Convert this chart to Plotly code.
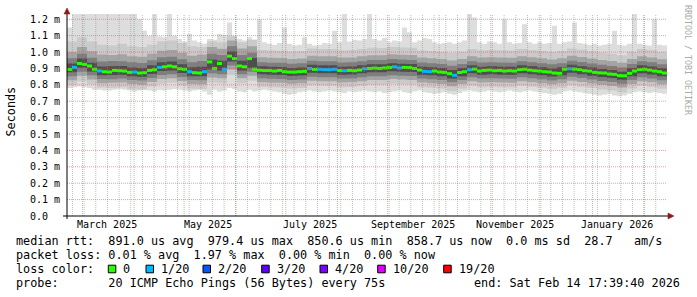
import numpy as np
import pandas as pd
import plotly.graph_objects as go

# ---------------- data ----------------
END = pd.Timestamp("2026-02-14 17:39:40")
SPAN_DAYS = 360

# median rtt per 3-day bin, microseconds
median_us = [894, 906, 930, 925, 915, 895, 885, 880, 878, 888,
             886, 884, 876, 878, 872, 874, 888, 892, 906, 910,
             915, 910, 898, 895, 880, 874, 872, 880, 940, 900,
             930, 895, 975, 960, 915, 910, 960, 895, 889, 887,
             887, 884, 888, 880, 878, 878, 880, 882, 900, 894,
             895, 893, 893, 895, 887, 886, 888, 886, 890, 898,
             900, 902, 900, 903, 905, 910, 903, 906, 905, 900,
             890, 882, 880, 884, 878, 876, 868, 858, 875, 880,
             893, 896, 884, 888, 890, 886, 888, 884, 886, 884,
             893, 895, 890, 886, 884, 880, 878, 872, 870, 895,
             898, 896, 893, 886, 884, 876, 873, 872, 866, 864,
             856, 855, 870, 884, 893, 895, 890, 884, 880, 872]

# lost pings (of 20) per 3-day bin
loss_count = [0, 1, 0, 0, 0, 0, 1, 0, 0, 0,
              0, 0, 0, 1, 0, 0, 0, 0, 1, 0,
              0, 0, 0, 0, 1, 0, 0, 1, 0, 0,
              0, 1, 0, 0, 0, 0, 0, 0, 0, 0,
              0, 0, 0, 0, 0, 0, 0, 0, 1, 0,
              1, 1, 1, 1, 0, 1, 0, 0, 0, 1,
              0, 0, 0, 0, 0, 1, 1, 0, 0, 0,
              0, 1, 1, 0, 0, 0, 0, 1, 0, 0,
              1, 0, 0, 0, 0, 0, 0, 0, 0, 0,
              0, 0, 0, 0, 0, 0, 0, 0, 0, 0,
              1, 0, 0, 0, 0, 0, 0, 0, 0, 0,
              0, 0, 0, 0, 0, 0, 0, 0, 0, 0]

# slowest ping per 3-day bin, microseconds
ping_max_us = [1150, 1260, 1260, 1260, 1260, 1260, 1260, 1260, 1260, 1260,
               1260, 1260, 1260, 1260, 1200, 1130, 1100, 1250, 1095, 1090,
               1240, 1100, 1080, 1065, 1110, 1070, 1060, 1050, 1080, 1075,
               1110, 1105, 1180, 1100, 1080, 1070, 1090, 1075, 1200, 1060,
               1050, 1045, 1055, 1150, 1050, 1040, 1045, 1090, 1050, 1040,
               1045, 1055, 1050, 1130, 1060, 1250, 1065, 1075, 1070, 1080,
               1250, 1080, 1070, 1085, 1060, 1070, 1065, 1150, 1120, 1060,
               1070, 1085, 1080, 1060, 1050, 1055, 1060, 1050, 1060, 1070,
               1250, 1210, 1060, 1050, 1065, 1060, 1050, 1200, 1060, 1050,
               1055, 1170, 1060, 1050, 1060, 1050, 1055, 1160, 1050, 1060,
               1065, 1180, 1055, 1050, 1045, 1050, 1040, 1045, 1050, 1130,
               1045, 1040, 1050, 1250, 1050, 1045, 1040, 1200, 1045, 1040]

# fastest ping per 3-day bin, microseconds
ping_min_us = [780, 785, 790, 785, 780, 770, 770, 765, 765, 770,
               775, 770, 765, 760, 765, 770, 765, 760, 770, 765,
               770, 775, 770, 765, 760, 765, 770, 760, 740, 770,
               760, 765, 780, 775, 760, 755, 770, 760, 765, 770,
               765, 760, 755, 745, 740, 745, 755, 760, 765, 760,
               755, 760, 765, 760, 755, 750, 760, 755, 760, 765,
               760, 755, 760, 750, 755, 760, 765, 755, 750, 760,
               765, 755, 750, 745, 750, 755, 745, 740, 750, 760,
               765, 760, 755, 760, 765, 760, 755, 760, 765, 760,
               755, 760, 765, 760, 755, 750, 745, 740, 745, 760,
               765, 760, 755, 750, 745, 740, 735, 740, 745, 735,
               730, 735, 745, 755, 760, 755, 750, 755, 750, 745]

# inner sorted-ping ranks per 6-day bin, microseconds
ping02_us = [800, 822, 803, 784, 781, 786, 775, 772, 790, 806, 812, 795, 776, 775, 812, 810, 860, 810, 825, 788,
             785, 784, 778, 780, 797, 794, 794, 786, 787, 794, 801, 800, 806, 804, 802, 786, 782, 777, 763, 777,
             794, 786, 788, 786, 785, 794, 788, 782, 775, 782, 797, 789, 780, 772, 765, 755, 777, 794, 787, 776]
ping04_us = [828, 855, 833, 810, 812, 814, 805, 800, 818, 836, 840, 824, 805, 804, 845, 840, 893, 840, 855, 816,
             813, 812, 806, 809, 825, 822, 822, 814, 815, 822, 829, 829, 835, 832, 830, 814, 810, 805, 791, 805,
             822, 814, 816, 814, 813, 822, 816, 810, 803, 810, 825, 817, 808, 800, 793, 783, 805, 822, 815, 804]
ping06_us = [852, 880, 858, 835, 834, 838, 830, 826, 842, 860, 864, 848, 829, 828, 870, 864, 918, 864, 880, 840,
             837, 836, 830, 833, 849, 846, 846, 838, 839, 846, 853, 853, 859, 856, 854, 838, 834, 829, 815, 829,
             846, 838, 840, 838, 837, 846, 840, 834, 827, 834, 849, 841, 832, 824, 817, 807, 829, 846, 839, 828]
ping08_us = [876, 904, 881, 858, 860, 861, 853, 849, 866, 884, 888, 872, 853, 852, 894, 888, 942, 888, 904, 864,
             861, 860, 854, 857, 873, 870, 870, 862, 863, 870, 877, 877, 883, 880, 878, 862, 858, 853, 839, 853,
             870, 862, 864, 862, 861, 870, 864, 858, 851, 858, 873, 865, 856, 848, 841, 831, 853, 870, 863, 852]
ping13_us = [930, 960, 935, 912, 913, 915, 906, 903, 920, 938, 942, 926, 907, 910, 955, 947, 1003, 947, 963, 913,
             910, 909, 903, 906, 922, 919, 919, 911, 912, 919, 926, 926, 932, 929, 927, 911, 907, 902, 890, 902,
             919, 911, 913, 911, 910, 919, 913, 907, 900, 907, 922, 914, 905, 897, 890, 880, 902, 919, 912, 901]
ping15_us = [962, 990, 965, 942, 945, 944, 938, 933, 950, 968, 972, 956, 937, 945, 990, 982, 1035, 982, 995, 938,
             935, 934, 928, 931, 947, 944, 944, 936, 937, 944, 951, 951, 957, 954, 952, 936, 932, 927, 917, 927,
             944, 936, 938, 936, 935, 944, 938, 932, 925, 932, 947, 939, 930, 922, 915, 905, 927, 944, 937, 926]
ping17_us = [1000, 1030, 1005, 985, 982, 986, 975, 972, 990, 1008, 1012, 996, 977, 985, 1030, 1020, 1070, 1022, 1035, 968,
             965, 964, 958, 961, 977, 974, 974, 966, 967, 974, 981, 981, 987, 984, 982, 966, 962, 957, 948, 957,
             974, 966, 968, 966, 965, 974, 968, 962, 955, 962, 977, 969, 960, 952, 945, 935, 957, 974, 967, 956]
ping19_us = [1065, 1090, 1065, 1045, 1040, 1050, 1035, 1030, 1045, 1065, 1070, 1055, 1035, 1030, 1065, 1060, 1095, 1060, 1075, 1013,
             1010, 1008, 1003, 1006, 1022, 1019, 1019, 1011, 1012, 1019, 1026, 1025, 1030, 1028, 1026, 1010, 1006, 1002, 995, 1002,
             1019, 1011, 1013, 1011, 1010, 1019, 1013, 1007, 1000, 1007, 1022, 1014, 1005, 997, 990, 980, 1002, 1019, 1012, 1001]

y_tick_values = [0.0, 0.1, 0.2, 0.3, 0.4, 0.5, 0.6, 0.7, 0.8, 0.9, 1.0, 1.1, 1.2]
y_tick_labels = ["0.0", "0.1 m", "0.2 m", "0.3 m", "0.4 m", "0.5 m", "0.6 m",
                 "0.7 m", "0.8 m", "0.9 m", "1.0 m", "1.1 m", "1.2 m"]
month_labels = ["March 2025", "May 2025", "July 2025", "September 2025",
                "November 2025", "January 2026"]
month_label_starts = ["2025-03-01", "2025-05-01", "2025-07-01", "2025-09-01",
                      "2025-11-01", "2026-01-01"]
legend_rows = [
    "median rtt:  891.0 us avg  979.4 us max  850.6 us min  858.7 us now  0.0 ms sd  28.7   am/s",
    "packet loss: 0.01 % avg  1.97 % max  0.00 % min  0.00 % now",
    "loss color:",
    "probe:       20 ICMP Echo Pings (56 Bytes) every 75s",
]
end_label = "end: Sat Feb 14 17:39:40 2026"
loss_classes = [0, 1, 2, 3, 4, 10, 19]
loss_class_labels = ["0", "1/20", "2/20", "3/20", "4/20", "10/20", "19/20"]
loss_class_colors = ["#26ff00", "#00b8ff", "#0059ff", "#5e00ff", "#7e00ff", "#dd00ff", "#ff0000"]

# ---------------- figure ----------------
W, H = 697, 297
ML, MR, MT, MB = 67, 30, 14, 81
PW, PH = W - ML - MR, H - MT - MB
Y_MAX = 1.232
START = END - pd.Timedelta(days=SPAN_DAYS)
MONO = "DejaVu Sans Mono"


def pxx(px):
    return (px - ML) / PW


def pxy(py):
    return (H - MB - py) / PH


fig = go.Figure()


def step_band(lo_us, hi_us, color):
    lo = np.asarray(lo_us, float) / 1000.0
    hi = np.asarray(hi_us, float) / 1000.0
    n = len(lo)
    edges = START + pd.to_timedelta(np.arange(n + 1) * (SPAN_DAYS / n), unit="D")
    lo_e = np.append(lo, lo[-1])
    hi_e = np.append(hi, hi[-1])
    fig.add_trace(go.Scatter(x=edges, y=lo_e, mode="lines", line=dict(width=0, shape="hv"),
                             hoverinfo="skip", showlegend=False))
    fig.add_trace(go.Scatter(x=edges, y=hi_e, mode="lines", line=dict(width=0, shape="hv"),
                             fill="tonexty", fillcolor=color, hoverinfo="skip", showlegend=False))


# smoke (SmokePing shading of sorted pings)
step_band(ping_min_us, ping_max_us, "#dddddd")
step_band(ping02_us, ping19_us, "#cacaca")
step_band(ping04_us, ping17_us, "#a4a4a4")
step_band(ping06_us, ping15_us, "#7e7e7e")
step_band(ping08_us, ping13_us, "#4e4e4e")

# median drawn as 3px horizontal segments coloured by loss class
med = np.asarray(median_us, float) / 1000.0
n_med = len(med)
bin_days = SPAN_DAYS / n_med
seg_start = START + pd.to_timedelta(np.arange(n_med) * bin_days, unit="D")
seg_end = START + pd.to_timedelta((np.arange(n_med) + 1) * bin_days, unit="D")


def loss_class_index(c):
    k = 0
    for idx, cls in enumerate(loss_classes):
        if c >= cls:
            k = idx
    return k


cls_of_bin = [loss_class_index(c) for c in loss_count]
for k, col in enumerate(loss_class_colors):
    xs, ys = [], []
    for i in range(n_med):
        if cls_of_bin[i] == k:
            xs += [seg_start[i], seg_end[i], None]
            ys += [med[i], med[i], None]
    if xs:
        fig.add_trace(go.Scatter(x=xs, y=ys, mode="lines", line=dict(color=col, width=3),
                                 connectgaps=False, hoverinfo="skip", showlegend=False))

shapes = []
DOT = "1px,1px"
MINOR = "rgba(140,140,140,0.55)"
MAJOR = "rgba(225,70,70,0.5)"
# weekly minor grid
for d in pd.date_range("2025-02-23", END, freq="7D"):
    shapes.append(dict(type="line", xref="x", yref="paper", x0=d, x1=d, y0=0, y1=1,
                       line=dict(color=MINOR, width=1, dash=DOT), layer="above"))
# monthly major grid
for d in pd.date_range("2025-03-01", END, freq="MS"):
    shapes.append(dict(type="line", xref="x", yref="paper", x0=d, x1=d, y0=0, y1=1,
                       line=dict(color=MAJOR, width=1, dash=DOT), layer="above"))
for v in y_tick_values[1:]:
    shapes.append(dict(type="line", xref="paper", yref="y", x0=0, x1=1, y0=v, y1=v,
                       line=dict(color=MAJOR, width=1, dash=DOT), layer="above"))
# axes with arrows
shapes.append(dict(type="line", xref="paper", yref="paper", x0=pxx(63), x1=pxx(669), y0=0, y1=0,
                   line=dict(color="black", width=1), layer="above"))
shapes.append(dict(type="line", xref="paper", yref="paper", x0=0, x1=0, y0=pxy(219), y1=pxy(11),
                   line=dict(color="black", width=1), layer="above"))
ARROW = "#8b1a1a"
shapes.append(dict(type="path", xref="paper", yref="paper",
                   path=f"M {pxx(668)} {pxy(213)} L {pxx(674)} {pxy(216)} L {pxx(668)} {pxy(219)} Z",
                   fillcolor=ARROW, line=dict(color=ARROW, width=0.5), layer="above"))
shapes.append(dict(type="path", xref="paper", yref="paper",
                   path=f"M {pxx(64)} {pxy(14)} L {pxx(67)} {pxy(8)} L {pxx(70)} {pxy(14)} Z",
                   fillcolor=ARROW, line=dict(color=ARROW, width=0.5), layer="above"))

annotations = []
for v, t in zip(y_tick_values, y_tick_labels):
    annotations.append(dict(x=pxx(29), y=v, xref="paper", yref="y", text=t, showarrow=False,
                            xanchor="left", yanchor="middle", borderpad=0,
                            font=dict(family=MONO, size=10, color="black")))
for s, t in zip(month_label_starts, month_labels):
    annotations.append(dict(x=pd.Timestamp(s) + pd.Timedelta(days=14.5), y=pxy(224.5), xref="x", yref="paper",
                            text=t, showarrow=False, xanchor="center", yanchor="middle", borderpad=0,
                            font=dict(family=MONO, size=10, color="black")))
annotations.append(dict(x=pxx(10.5), y=pxy(112), xref="paper", yref="paper", text="Seconds",
                        textangle=-90, showarrow=False, xanchor="center", yanchor="middle",
                        font=dict(family=MONO, size=11.8, color="black")))
annotations.append(dict(x=pxx(688), y=pxy(60), xref="paper", yref="paper", text="RRDTOOL / TOBI OETIKER",
                        textangle=90, showarrow=False, xanchor="center", yanchor="middle",
                        font=dict(family=MONO, size=8.3, color="#aaaaaa")))

row_y = [241.5, 255, 269, 282.5]
for t, ry in zip(legend_rows, row_y):
    annotations.append(dict(x=pxx(15), y=pxy(ry), xref="paper", yref="paper", text=t.replace(" ", "\u00a0"),
                            showarrow=False, xanchor="left", yanchor="middle", borderpad=0,
                            font=dict(family=MONO, size=11.8, color="black")))
annotations.append(dict(x=pxx(681), y=pxy(row_y[3]), xref="paper", yref="paper", text=end_label,
                        showarrow=False, xanchor="right", yanchor="middle", borderpad=0,
                        font=dict(family=MONO, size=11.8, color="black")))

box_lefts = [108.3, 146, 203, 261.7, 320, 377.7, 443.7]
for bl, lab, col in zip(box_lefts, loss_class_labels, loss_class_colors):
    shapes.append(dict(type="rect", xref="paper", yref="paper", x0=pxx(bl), x1=pxx(bl + 7.5),
                       y0=pxy(row_y[2] + 3.8), y1=pxy(row_y[2] - 3.8),
                       fillcolor=col, line=dict(color="black", width=1), layer="above"))
    annotations.append(dict(x=pxx(bl + 14), y=pxy(row_y[2]), xref="paper", yref="paper", text=lab,
                            showarrow=False, xanchor="left", yanchor="middle", borderpad=0,
                            font=dict(family=MONO, size=11.8, color="black")))

fig.update_layout(
    width=W, height=H, autosize=False,
    margin=dict(l=ML, r=MR, t=MT, b=MB, pad=0),
    paper_bgcolor="white", plot_bgcolor="white",
    showlegend=False,
    xaxis=dict(type="date", range=[START, END], showgrid=False, zeroline=False,
               showticklabels=False, showline=False, ticks=""),
    yaxis=dict(range=[0, Y_MAX], showgrid=False, zeroline=False,
               showticklabels=False, showline=False, ticks=""),
    shapes=shapes, annotations=annotations,
)

fig.write_html("out.html", config={"displayModeBar": False})
